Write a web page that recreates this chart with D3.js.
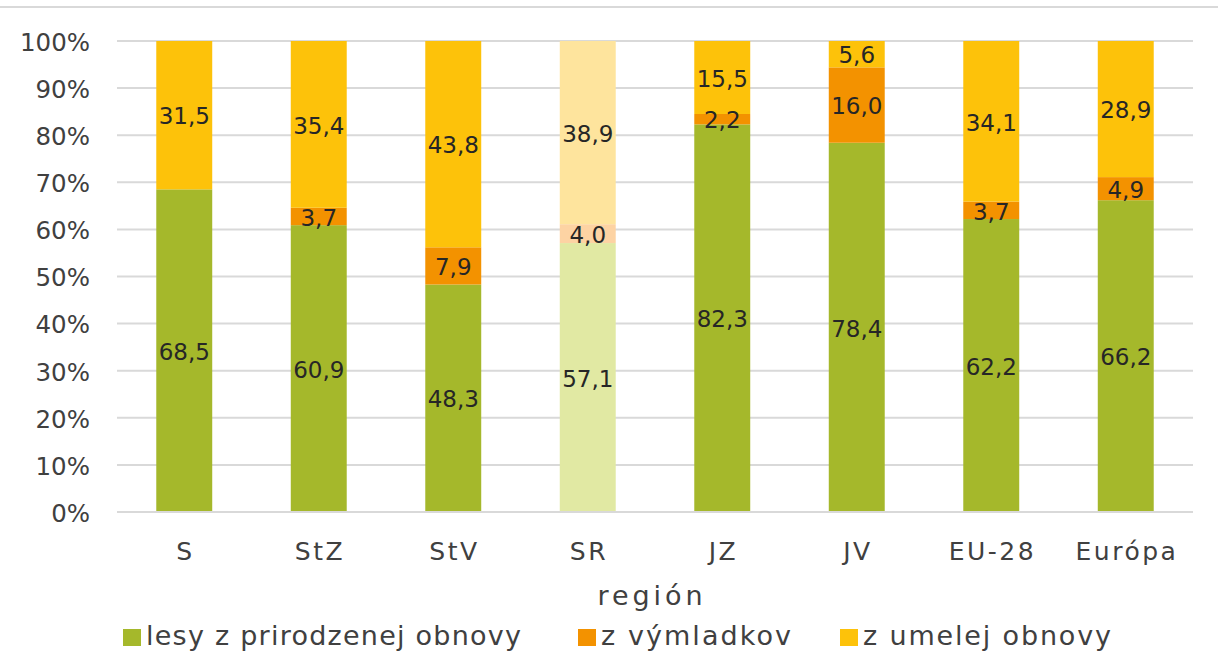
<!DOCTYPE html>
<html>
<head>
<meta charset="utf-8">
<script src="https://cdn.jsdelivr.net/npm/d3@7"></script>
<style>
  html, body { margin: 0; padding: 0; background: #fff; }
  svg { display: block; }
  text { font-family: "DejaVu Sans", sans-serif; }
</style>
</head>
<body>
<script>
const categories = ["S", "StZ", "StV", "SR", "JZ", "JV", "EU-28", "Európa"];
const prirodzena = [68.5, 60.9, 48.3, 57.1, 82.3, 78.4, 62.2, 66.2];
const vymladky   = [0, 3.7, 7.9, 4.0, 2.2, 16.0, 3.7, 4.9];
const umela      = [31.5, 35.4, 43.8, 38.9, 15.5, 5.6, 34.1, 28.9];
const seriesNames = ["lesy z prirodzenej obnovy", "z výmladkov", "z umelej obnovy"];
const yTicks = [0, 10, 20, 30, 40, 50, 60, 70, 80, 90, 100];
const xTitle = "región";
const highlighted = "SR";

const colors = ["#a5b82b", "#f39200", "#fdc20a"];
const lightColors = ["#e1e9a3", "#fdd3a3", "#fee49d"];

const W = 1218, H = 653;
const m = { left: 117, right: 25, top: 41, bottom: 141 };

const svg = d3.select("body").append("svg").attr("width", W).attr("height", H);

// top border line
svg.append("line").attr("x1", 0).attr("x2", W).attr("y1", 7).attr("y2", 7)
  .attr("stroke", "#d9d9d9").attr("stroke-width", 2);

const x = d3.scaleBand().domain(categories)
  .range([m.left, W - m.right]).paddingInner(0.584).paddingOuter(0.292);
const y = d3.scaleLinear().domain([0, 100]).range([H - m.bottom, m.top]);

// gridlines
svg.append("g").selectAll("line").data(yTicks.filter(t => t > 0)).join("line")
  .attr("x1", m.left).attr("x2", W - m.right)
  .attr("y1", d => y(d)).attr("y2", d => y(d))
  .attr("stroke", "#d9d9d9").attr("stroke-width", 2);

// y axis labels
const yAxis = d3.axisLeft(y).tickValues(yTicks).tickFormat(d => d + "%").tickSize(0).tickPadding(0);
const gy = svg.append("g").attr("transform", `translate(${m.left - 27},0)`).call(yAxis);
gy.select(".domain").remove();
gy.selectAll("text").attr("font-size", 24.5).attr("fill", "#404040")
  .attr("font-family", "DejaVu Sans, sans-serif").attr("dy", "0.38em");

// stacked data
const table = categories.map((c, i) => ({ cat: c, p: prirodzena[i], v: vymladky[i], u: umela[i] }));
const stack = d3.stack().keys(["p", "v", "u"]);
const stacked = stack(table);

const gBars = svg.append("g");
stacked.forEach((layer, li) => {
  gBars.append("g").selectAll("rect").data(layer).join("rect")
    .attr("x", d => x(d.data.cat))
    .attr("width", x.bandwidth())
    .attr("y", d => y(d[1]))
    .attr("height", d => y(d[0]) - y(d[1]))
    .attr("fill", d => d.data.cat === highlighted ? lightColors[li] : colors[li]);
});

// x axis line
svg.append("line").attr("x1", m.left).attr("x2", W - m.right)
  .attr("y1", y(0)).attr("y2", y(0)).attr("stroke", "#d9d9d9").attr("stroke-width", 2);

// data labels
const fmt = v => v.toFixed(1).replace(".", ",");
stacked.forEach((layer, li) => {
  svg.append("g").selectAll("text").data(layer.filter(d => d[1] - d[0] > 0)).join("text")
    .attr("x", d => x(d.data.cat) + x.bandwidth() / 2)
    .attr("y", d => y((d[0] + d[1]) / 2))
    .attr("dy", "0.4em")
    .attr("text-anchor", "middle")
    .attr("font-size", 23)
    .attr("fill", "#262626")
    .text(d => fmt(d[1] - d[0]));
});

// x axis labels
const xAxis = d3.axisBottom(x).tickSize(0).tickPadding(0);
const gx = svg.append("g").attr("transform", `translate(0,${y(0) + 30})`).call(xAxis);
gx.select(".domain").remove();
gx.selectAll("text").attr("font-size", 25).attr("fill", "#404040")
  .attr("font-family", "DejaVu Sans, sans-serif")
  .attr("letter-spacing", 2.5).attr("dx", 1.2);

// x title
svg.append("text").attr("x", 650).attr("y", 605)
  .attr("text-anchor", "middle").attr("font-size", 27).attr("fill", "#404040")
  .attr("textLength", 105).attr("lengthAdjust", "spacing").text(xTitle);

// legend
const legendX = [123, 578, 840];
const legendW = [375, 190, 248];
const lg = svg.append("g");
seriesNames.forEach((name, i) => {
  lg.append("rect").attr("x", legendX[i]).attr("y", 629).attr("width", 18).attr("height", 17)
    .attr("fill", colors[i]);
  lg.append("text").attr("x", legendX[i] + 23).attr("y", 645)
    .attr("font-size", 27).attr("fill", "#404040")
    .attr("textLength", legendW[i]).attr("lengthAdjust", "spacing").text(name);
});
</script>
</body>
</html>
